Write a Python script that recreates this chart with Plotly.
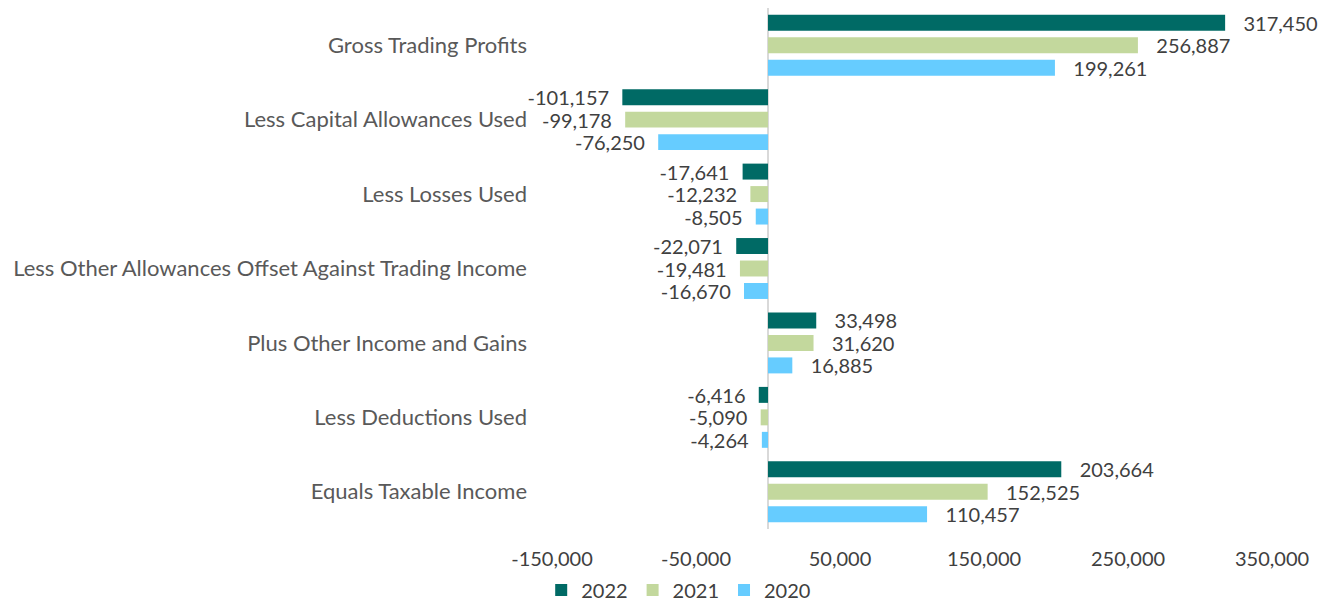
import plotly.graph_objects as go

categories = [
    "Gross Trading Profits",
    "Less Capital Allowances Used",
    "Less Losses Used",
    "Less Other Allowances Offset Against Trading Income",
    "Plus Other Income and Gains",
    "Less Deductions Used",
    "Equals Taxable Income",
]
series_names = ["2022", "2021", "2020"]
values_2022 = [317450, -101157, -17641, -22071, 33498, -6416, 203664]
values_2021 = [256887, -99178, -12232, -19481, 31620, -5090, 152525]
values_2020 = [199261, -76250, -8505, -16670, 16885, -4264, 110457]
colors = ["#006A65", "#C3D89D", "#66CCFF"]
tick_vals = [-150000, -50000, 50000, 150000, 250000, 350000]

FONT = "Lato, Open Sans, sans-serif"
TXT = "#404040"
PAD = "\u00a0\u00a0\u00a0"


def lab(v):
    s = f"{v:,}"
    return PAD + s if v >= 0 else s + "\u00a0\u00a0"


fig = go.Figure()
for name, vals, col in zip(series_names, [values_2022, values_2021, values_2020], colors):
    fig.add_trace(go.Bar(
        y=categories, x=vals, name=name, orientation="h",
        marker=dict(color=col, line=dict(width=0)),
        text=[lab(v) for v in vals], textposition="outside",
        constraintext="none",
        textfont=dict(family=FONT, size=20, color=TXT),
        cliponaxis=False,
    ))

fig.update_layout(
    width=1328, height=600,
    margin=dict(l=544, r=64, t=0, b=79, autoexpand=False),
    paper_bgcolor="white", plot_bgcolor="white",
    barmode="group", bargap=0.094, bargroupgap=0.29,
    font=dict(family=FONT, size=18, color=TXT),
    showlegend=True,
    legend=dict(orientation="h", x=-0.015, xanchor="left",
                yref="container", y=0.03, yanchor="middle",
                font=dict(family=FONT, size=20, color=TXT), traceorder="normal",
                itemwidth=30),
)
fig.update_xaxes(
    range=[-150000, 350000], tickvals=tick_vals,
    ticktext=[f"{v:,}" for v in tick_vals], automargin=False,
    showgrid=False, zeroline=True, zerolinecolor="#D9D9D9", zerolinewidth=2,
    showline=False, ticks="", ticklabelstandoff=16,
    tickfont=dict(family=FONT, size=20, color=TXT),
)
fig.update_yaxes(
    autorange="reversed", showgrid=False, showline=False, ticks="",
    automargin=False,
    ticklabelstandoff=24, tickfont=dict(family=FONT, size=22, color="#595959"),
)
fig.write_html("out.html")
